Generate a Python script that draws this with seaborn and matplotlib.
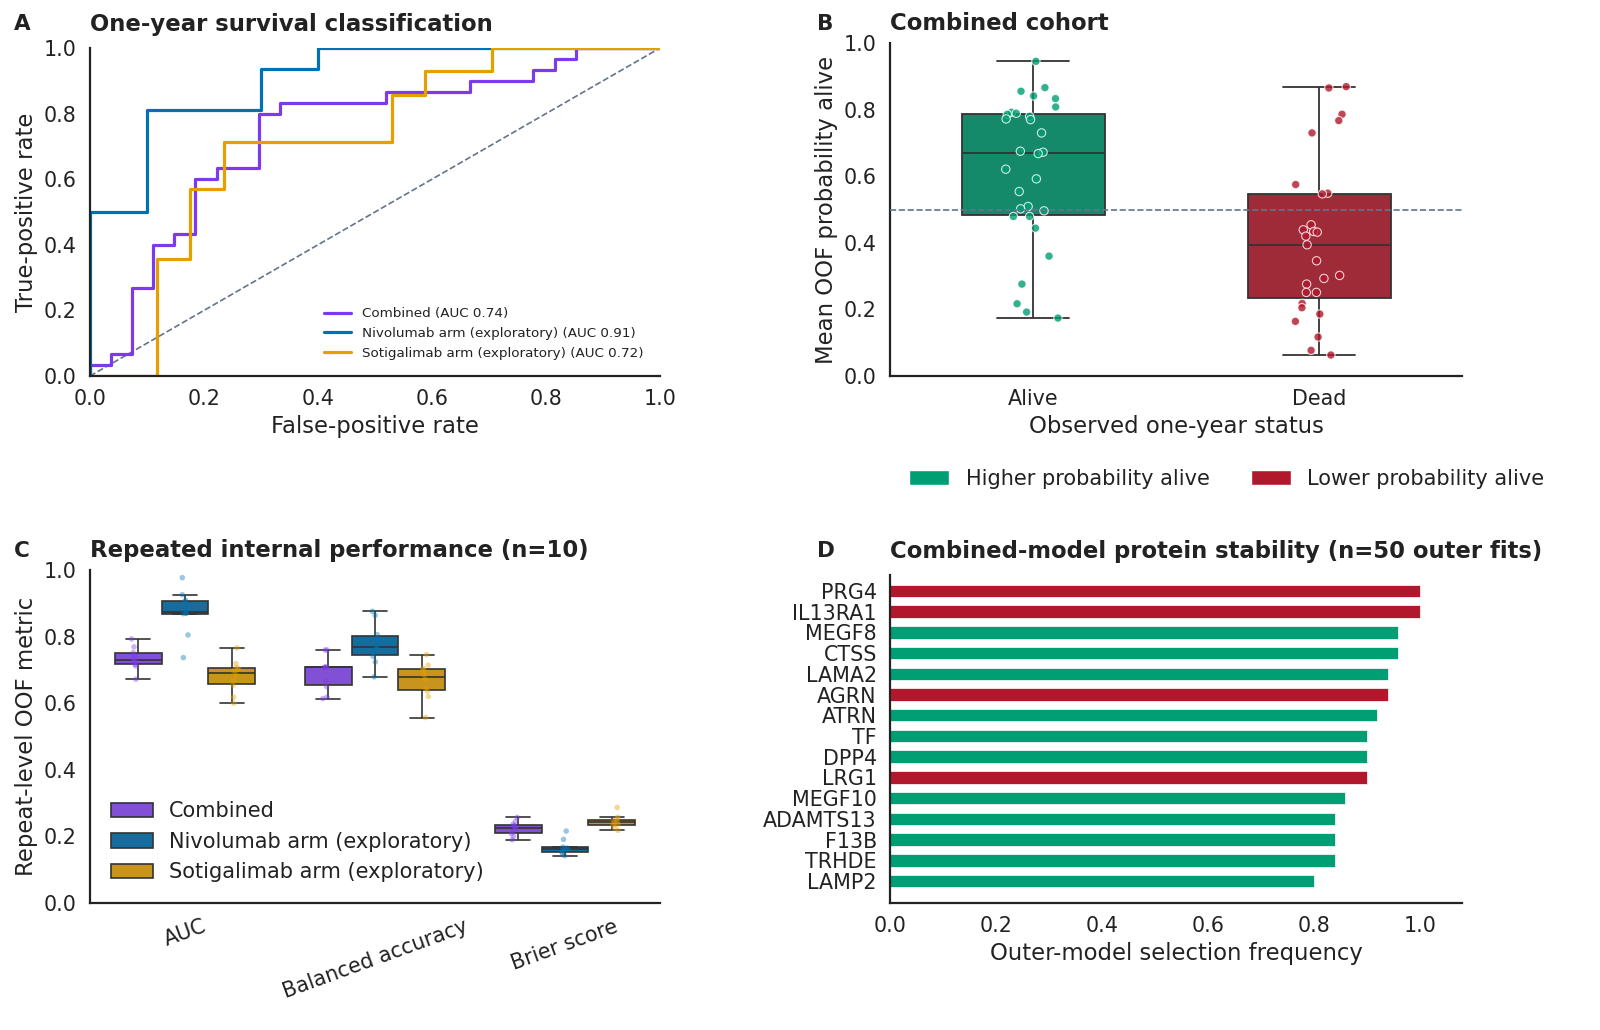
import numpy as np
import pandas as pd
import matplotlib
matplotlib.use("Agg")
import matplotlib.pyplot as plt
import seaborn as sns
from matplotlib.patches import Patch

# ---------------- data ----------------
# Panel A: ROC curve points
combined_fpr = [0.0, 0.0, 0.037, 0.037, 0.074, 0.074, 0.111, 0.111, 0.148, 0.148, 0.185, 0.185,
                0.222, 0.222, 0.296, 0.296, 0.333, 0.333, 0.519, 0.519, 0.667, 0.667, 0.778, 0.778,
                0.815, 0.815, 0.852, 0.852, 1.0]
combined_tpr = [0.0, 0.033, 0.033, 0.067, 0.067, 0.267, 0.267, 0.400, 0.400, 0.433, 0.433, 0.600,
                0.600, 0.633, 0.633, 0.800, 0.800, 0.833, 0.833, 0.867, 0.867, 0.900, 0.900, 0.933,
                0.933, 0.967, 0.967, 1.0, 1.0]
nivo_fpr = [0.0, 0.0, 0.1, 0.1, 0.3, 0.3, 0.4, 0.4, 1.0]
nivo_tpr = [0.0, 0.5, 0.5, 0.8125, 0.8125, 0.9375, 0.9375, 1.0, 1.0]
soti_fpr = [0.0, 0.118, 0.118, 0.176, 0.176, 0.235, 0.235, 0.529, 0.529, 0.588, 0.588, 0.706, 0.706, 1.0]
soti_tpr = [0.0, 0.0, 0.357, 0.357, 0.571, 0.571, 0.714, 0.714, 0.857, 0.857, 0.929, 0.929, 1.0, 1.0]
roc_labels = ["Combined (AUC 0.74)", "Nivolumab arm (exploratory) (AUC 0.91)",
              "Sotigalimab arm (exploratory) (AUC 0.72)"]

# Panel B: mean OOF probability alive
status_levels = ["Alive", "Dead"]
alive_prob = [0.945, 0.866, 0.855, 0.841, 0.833, 0.808, 0.792, 0.789, 0.786, 0.780, 0.772, 0.770,
              0.730, 0.675, 0.672, 0.668, 0.621, 0.592, 0.554, 0.509, 0.502, 0.496, 0.479, 0.479,
              0.444, 0.360, 0.276, 0.217, 0.192, 0.174]
dead_prob = [0.869, 0.865, 0.786, 0.767, 0.730, 0.575, 0.549, 0.547, 0.454, 0.439, 0.434, 0.432,
             0.420, 0.394, 0.346, 0.302, 0.293, 0.276, 0.251, 0.251, 0.218, 0.205, 0.186, 0.164,
             0.117, 0.077, 0.063]

# Panel C: repeat-level metrics (10 repeats)
metrics = ["AUC", "Balanced accuracy", "Brier score"]
arms = ["Combined", "Nivolumab arm (exploratory)", "Sotigalimab arm (exploratory)"]
auc_combined = [0.672, 0.712, 0.717, 0.722, 0.727, 0.733, 0.741, 0.752, 0.769, 0.793]
auc_nivo = [0.737, 0.805, 0.869, 0.870, 0.871, 0.879, 0.905, 0.909, 0.926, 0.977]
auc_soti = [0.600, 0.618, 0.654, 0.668, 0.685, 0.697, 0.703, 0.707, 0.719, 0.766]
bacc_combined = [0.614, 0.618, 0.650, 0.667, 0.708, 0.708, 0.708, 0.708, 0.760, 0.760]
bacc_nivo = [0.679, 0.724, 0.741, 0.750, 0.765, 0.773, 0.790, 0.806, 0.864, 0.876]
bacc_soti = [0.557, 0.620, 0.636, 0.645, 0.672, 0.686, 0.700, 0.705, 0.714, 0.746]
brier_combined = [0.190, 0.200, 0.208, 0.215, 0.222, 0.228, 0.232, 0.236, 0.245, 0.257]
brier_nivo = [0.142, 0.150, 0.153, 0.158, 0.160, 0.162, 0.165, 0.168, 0.191, 0.216]
brier_soti = [0.218, 0.225, 0.233, 0.236, 0.240, 0.244, 0.247, 0.252, 0.258, 0.287]

# Panel D: protein selection frequency
proteins = ["PRG4", "IL13RA1", "MEGF8", "CTSS", "LAMA2", "AGRN", "ATRN", "TF", "DPP4", "LRG1",
            "MEGF10", "ADAMTS13", "F13B", "TRHDE", "LAMP2"]
sel_freq = [1.00, 1.00, 0.96, 0.96, 0.94, 0.94, 0.92, 0.90, 0.90, 0.90, 0.86, 0.84, 0.84, 0.84, 0.80]
direction = ["Lower", "Lower", "Higher", "Higher", "Higher", "Lower", "Higher", "Higher", "Higher",
             "Lower", "Higher", "Higher", "Higher", "Higher", "Higher"]

# ---------------- style ----------------
PURPLE, BLUE, ORANGE = "#7c3aed", "#0072b2", "#e69f00"
GREEN, RED = "#009e73", "#b2182b"
REFC = "#64748b"
LINEC = "#333333"

sns.set_theme(style="white")
plt.rcParams["font.family"] = ["DejaVu Sans"]
for k in ("text.color", "axes.labelcolor", "xtick.color", "ytick.color", "axes.edgecolor"):
    plt.rcParams[k] = "#222222"

W, H = 1600, 1030
fig = plt.figure(figsize=(16, 10.3), dpi=100)

def rect(x0, y0, x1, y1):
    return [x0 / W, 1 - y1 / H, (x1 - x0) / W, (y1 - y0) / H]

TICK = 14.9
LAB = 16.4
TIT = 16.4
LEG = 15.0

axA = fig.add_axes(rect(90, 48, 660, 376))
axB = fig.add_axes(rect(890, 43, 1462, 376))
axC = fig.add_axes(rect(90, 570, 660, 903))
axD = fig.add_axes(rect(890, 575, 1462, 903))

# ---- Panel A ----
axA.plot([0, 1], [0, 1], ls="--", color=REFC, lw=1.2, zorder=1)
for fx, ty, col, lab in [(combined_fpr, combined_tpr, PURPLE, roc_labels[0]),
                         (nivo_fpr, nivo_tpr, BLUE, roc_labels[1]),
                         (soti_fpr, soti_tpr, ORANGE, roc_labels[2])]:
    sns.lineplot(x=fx, y=ty, sort=False, estimator=None, color=col, lw=2.3, label=lab, ax=axA)
axA.set_xlim(0, 1)
axA.set_ylim(0, 1)
axA.set_xlabel("False-positive rate", fontsize=LAB)
axA.set_ylabel("True-positive rate", fontsize=LAB)
axA.set_title("One-year survival classification", loc="left", fontweight="bold", fontsize=TIT,
              pad=12.5)
axA.tick_params(labelsize=TICK)
axA.legend(loc="lower right", frameon=False, fontsize=9.7, borderaxespad=0.8)

# ---- Panel B ----
dfB = pd.DataFrame({
    "status": ["Alive"] * len(alive_prob) + ["Dead"] * len(dead_prob),
    "prob": alive_prob + dead_prob,
})
palB = {"Alive": GREEN, "Dead": RED}
sns.boxplot(data=dfB, x="status", y="prob", hue="status", order=status_levels, palette=palB,
            width=0.5, showfliers=False, linecolor=LINEC, linewidth=1.3, legend=False, ax=axB)
np.random.seed(3)
sns.stripplot(data=dfB, x="status", y="prob", hue="status", order=status_levels, palette=palB,
              jitter=0.1, size=6, alpha=0.8, edgecolor="white", linewidth=0.8, legend=False,
              ax=axB, zorder=5)
axB.axhline(0.5, ls="--", color=REFC, lw=1.2, zorder=6)
axB.set_ylim(0, 1)
axB.set_xlabel("Observed one-year status", fontsize=LAB)
axB.set_ylabel("Mean OOF probability alive", fontsize=LAB)
axB.set_title("Combined cohort", loc="left", fontweight="bold", fontsize=TIT, pad=9.5)
axB.tick_params(labelsize=TICK)
handles = [Patch(facecolor=GREEN, label="Higher probability alive"),
           Patch(facecolor=RED, label="Lower probability alive")]
fig.legend(handles=handles, loc="center", bbox_to_anchor=(1227 / W, 1 - 479 / H), ncol=2,
           frameon=False, fontsize=LEG, handlelength=1.9, columnspacing=2.0)

# ---- Panel C ----
rowsC = []
for m, vals in [("AUC", [auc_combined, auc_nivo, auc_soti]),
                ("Balanced accuracy", [bacc_combined, bacc_nivo, bacc_soti]),
                ("Brier score", [brier_combined, brier_nivo, brier_soti])]:
    for a, v in zip(arms, vals):
        for x in v:
            rowsC.append((m, a, x))
dfC = pd.DataFrame(rowsC, columns=["metric", "arm", "value"])
palC = {arms[0]: PURPLE, arms[1]: BLUE, arms[2]: ORANGE}
sns.boxplot(data=dfC, x="metric", y="value", hue="arm", order=metrics, hue_order=arms,
            palette=palC, width=0.74, gap=0, showfliers=False, linecolor=LINEC, linewidth=1.2,
            ax=axC)
sns.stripplot(data=dfC, x="metric", y="value", hue="arm", order=metrics, hue_order=arms,
              palette=palC, dodge=True, jitter=0.05, size=4, alpha=0.4, legend=False, ax=axC,
              zorder=5)
axC.set_ylim(0, 1)
axC.set_xlabel("")
axC.set_ylabel("Repeat-level OOF metric", fontsize=LAB)
axC.set_title("Repeated internal performance (n=10)", loc="left", fontweight="bold", fontsize=TIT,
              pad=9.0)
axC.tick_params(labelsize=TICK)
for lbl in axC.get_xticklabels():
    lbl.set_rotation(20)
    lbl.set_ha("center")
axC.legend(loc="lower left", frameon=False, fontsize=LEG, borderaxespad=0.6, handlelength=2.0)

# ---- Panel D ----
dfD = pd.DataFrame({"protein": proteins, "freq": sel_freq, "direction": direction})
sns.barplot(data=dfD, x="freq", y="protein", hue="direction", order=proteins,
            palette={"Higher": GREEN, "Lower": RED}, dodge=False, saturation=1, width=0.6,
            edgecolor="white", linewidth=0.5, legend=False, ax=axD)
axD.set_xlim(0, 1.08)
axD.set_ylim(15.06, -0.77)
axD.set_xticks([0, 0.2, 0.4, 0.6, 0.8, 1.0])
axD.set_ylabel("")
axD.set_xlabel("Outer-model selection frequency", fontsize=LAB)
axD.set_title("Combined-model protein stability (n=50 outer fits)", loc="left",
              fontweight="bold", fontsize=TIT, pad=12.5)
axD.tick_params(labelsize=TICK)

for ax in (axA, axB, axC, axD):
    sns.despine(ax=ax)
    for s in ("left", "bottom"):
        ax.spines[s].set_linewidth(1.6)

for letter, (x, y) in {"A": (14, 24), "B": (817, 24), "C": (14, 551), "D": (817, 551)}.items():
    fig.text(x / W, 1 - y / H, letter, fontweight="bold", fontsize=15.5, va="center", ha="left")

fig.savefig("out.png", dpi=100)
